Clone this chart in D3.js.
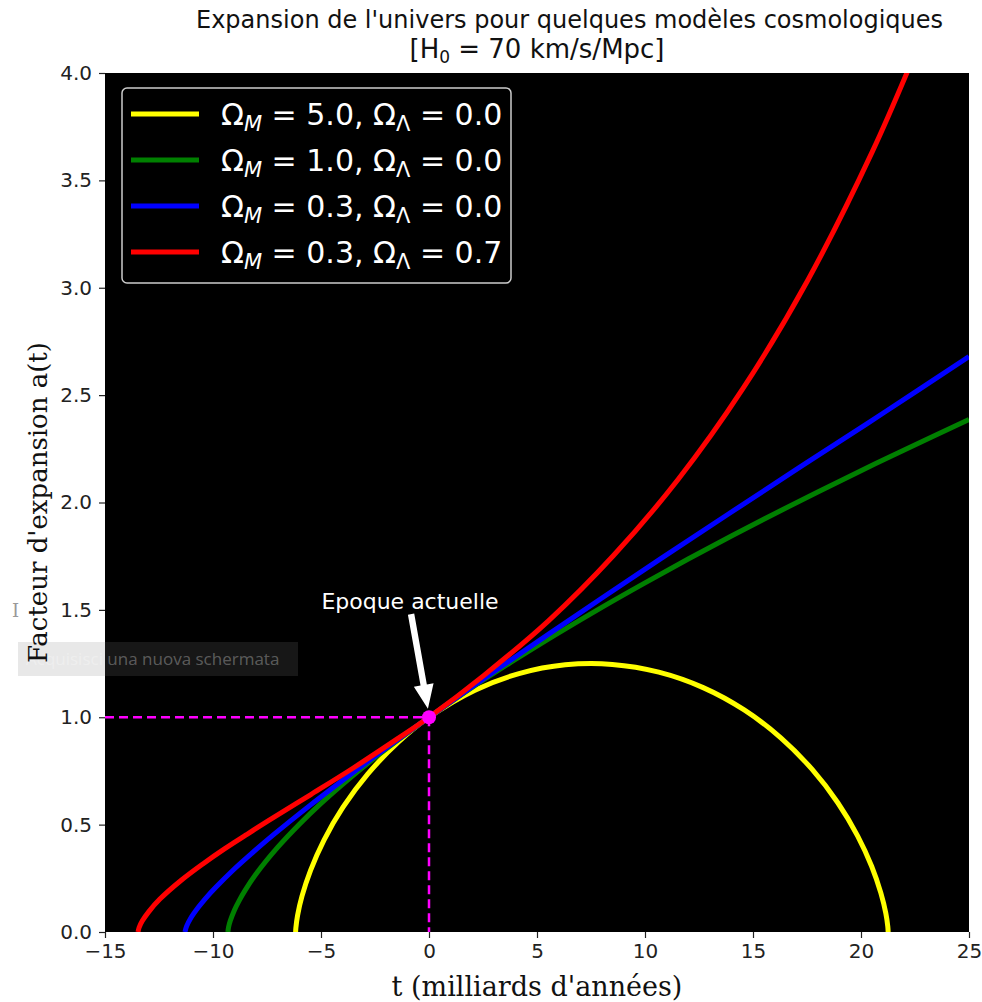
<!DOCTYPE html>
<html>
<head>
<meta charset="utf-8">
<script src="https://cdn.jsdelivr.net/npm/d3@7"></script>
<style>
  body { margin: 0; background: #fff; }
  svg { display: block; }
</style>
</head>
<body>
<svg id="chart" width="982" height="1002"></svg>
<script>
// valeurs (t en milliards d'années, a(t) sans dimension)
const tYellow = [-6.175, -6.164, -6.085, -5.877, -5.483, -4.861, -3.981, -2.831, -1.413, 0, 2.127, 4.165, 6.307, 8.487, 10.638, 12.693, 14.593, 16.288, 17.740, 18.926, 19.842, 20.497, 20.918, 21.149, 21.241, 21.257]
const aYellow = [0, 0.019, 0.077, 0.168, 0.287, 0.428, 0.581, 0.736, 0.885, 1.0, 1.126, 1.203, 1.244, 1.246, 1.210, 1.138, 1.034, 0.904, 0.757, 0.602, 0.448, 0.305, 0.182, 0.087, 0.025, 0]

const tGreen = [-9.31, -9.28, -9.2, -9.0, -8.8, -8.5, -8, -7, -6, -5, -4, -3, -2, -1, 0, 2, 4, 6, 8, 10, 12, 14, 16, 18, 20, 22, 25]
const aGreen = [0, 0.022, 0.052, 0.104, 0.144, 0.196, 0.271, 0.395, 0.502, 0.599, 0.688, 0.772, 0.851, 0.927, 1.0, 1.139, 1.269, 1.393, 1.512, 1.626, 1.737, 1.844, 1.948, 2.049, 2.148, 2.245, 2.386]

const tBlue = [-11.30, -11.22, -11.04, -10.67, -10.33, -9.87, -9.05, -8.22, -7.21, -5.48, -4.42, -3.22, -1.87, 0, 3.35, 5.54, 7.99, 10.75, 13.81, 17.24, 21.07, 25]
const aBlue = [0, 0.027, 0.063, 0.116, 0.158, 0.208, 0.290, 0.365, 0.452, 0.592, 0.674, 0.765, 0.865, 1.0, 1.236, 1.387, 1.554, 1.740, 1.943, 2.169, 2.419, 2.68]

const tRed = [-13.47, -13.42, -13.27, -12.97, -12.47, -11.47, -10.47, -9.47, -8.47, -7.47, -5.47, -3.47, -1.47, 0, 2.53, 5.53, 8.53, 11.53, 14.53, 17.53, 20.53, 22.53]
const aRed = [0, 0.021, 0.052, 0.095, 0.152, 0.241, 0.317, 0.387, 0.452, 0.516, 0.640, 0.766, 0.899, 1.0, 1.194, 1.449, 1.752, 2.107, 2.530, 3.034, 3.635, 4.098]

const series = [
  {label: ["5.0", "0.0"], color: "#ffff00", t: tYellow, a: aYellow},
  {label: ["1.0", "0.0"], color: "#008000", t: tGreen, a: aGreen},
  {label: ["0.3", "0.0"], color: "#0000ff", t: tBlue, a: aBlue},
  {label: ["0.3", "0.7"], color: "#ff0000", t: tRed, a: aRed}
]

const xTicks = [-15, -10, -5, 0, 5, 10, 15, 20, 25]
const yTicks = [0, 0.5, 1, 1.5, 2, 2.5, 3, 3.5, 4]
const now = {t: 0, a: 1}

const margin = {top: 73, right: 13, bottom: 70, left: 105}
const width = 982, height = 1002
const svg = d3.select("#chart")

const x = d3.scaleLinear().domain([-15, 25]).range([margin.left, width - margin.right])
const y = d3.scaleLinear().domain([0, 4]).range([height - margin.bottom, margin.top])

svg.append("defs").append("clipPath").attr("id", "clip")
  .append("rect")
  .attr("x", x(-15)).attr("y", y(4))
  .attr("width", x(25) - x(-15)).attr("height", y(0) - y(4))

svg.append("rect")
  .attr("x", x(-15)).attr("y", y(4))
  .attr("width", x(25) - x(-15)).attr("height", y(0) - y(4))
  .attr("fill", "#000")

// axes
const fmt = d => d < 0 ? "\u2212" + Math.abs(d) : String(d)
const xAxis = svg.append("g")
  .attr("transform", "translate(0," + y(0) + ")")
  .call(d3.axisBottom(x).tickValues(xTicks).tickFormat(fmt).tickSize(6).tickPadding(6))
const yAxis = svg.append("g")
  .attr("transform", "translate(" + x(-15) + ",0)")
  .call(d3.axisLeft(y).tickValues(yTicks).tickFormat(d3.format(".1f")).tickSize(6).tickPadding(7))
;[xAxis, yAxis].forEach(g => {
  g.select(".domain").remove()
  g.selectAll("line").attr("stroke", "#222").attr("stroke-width", 1.2)
  g.selectAll("text").attr("fill", "#222").style("font-family", "DejaVu Sans").style("font-size", "20px")
})

// courbes
const line = d3.line()
  .x(d => x(d[0])).y(d => y(d[1]))
  .curve(d3.curveCatmullRom.alpha(0.5))
const plot = svg.append("g").attr("clip-path", "url(#clip)")
plot.selectAll("path.model")
  .data(series)
  .enter().append("path")
  .attr("class", "model")
  .attr("d", d => line(d.t.map((t, i) => [t, d.a[i]])))
  .attr("fill", "none")
  .attr("stroke", d => d.color)
  .attr("stroke-width", 5)

// époque actuelle
plot.append("line")
  .attr("x1", x(-15)).attr("x2", x(now.t)).attr("y1", y(now.a)).attr("y2", y(now.a))
  .attr("stroke", "#ff00ff").attr("stroke-width", 2.5).attr("stroke-dasharray", "9,5")
plot.append("line")
  .attr("x1", x(now.t)).attr("x2", x(now.t)).attr("y1", y(now.a)).attr("y2", y(0))
  .attr("stroke", "#ff00ff").attr("stroke-width", 2.5).attr("stroke-dasharray", "9,5")
plot.append("circle")
  .attr("cx", x(now.t)).attr("cy", y(now.a)).attr("r", 7)
  .attr("fill", "#ff00ff")

// flèche
const tail = [x(-0.83), y(1.48)], tip = [x(-0.05), y(1.04)]
const dx = tip[0] - tail[0], dy = tip[1] - tail[1]
const len = Math.hypot(dx, dy), ux = dx / len, uy = dy / len, px = -uy, py = ux
const hl = 24, hw = 10, sw = 3.2
const base = [tip[0] - ux * hl, tip[1] - uy * hl]
const arrowPts = [
  [tail[0] + px * sw, tail[1] + py * sw],
  [base[0] + px * sw, base[1] + py * sw],
  [base[0] + px * hw, base[1] + py * hw],
  tip,
  [base[0] - px * hw, base[1] - py * hw],
  [base[0] - px * sw, base[1] - py * sw],
  [tail[0] - px * sw, tail[1] - py * sw]
]
svg.append("polygon")
  .attr("points", arrowPts.map(p => p.join(",")).join(" "))
  .attr("fill", "#fff")

svg.append("text")
  .attr("x", x(-0.88)).attr("y", y(1.505))
  .attr("text-anchor", "middle")
  .style("font-family", "DejaVu Sans").style("font-size", "22px")
  .attr("fill", "#fff")
  .text("Epoque actuelle")

// légende
const lg = svg.append("g").attr("transform", "translate(122,88)")
lg.append("rect")
  .attr("width", 389).attr("height", 195).attr("rx", 5)
  .attr("fill", "#000").attr("stroke", "#cccccc").attr("stroke-width", 1.5)
const item = lg.selectAll("g.item").data(series).enter().append("g")
  .attr("class", "item")
  .attr("transform", (d, i) => "translate(0," + (26 + i * 46) + ")")
item.append("line")
  .attr("x1", 9).attr("x2", 77)
  .attr("stroke", d => d.color).attr("stroke-width", 5)
const lt = item.append("text")
  .attr("x", 99).attr("y", 11)
  .attr("fill", "#fff")
  .style("font-family", "DejaVu Sans").style("font-size", "30px")
lt.each(function(d) {
  const t = d3.select(this)
  t.append("tspan").text("\u03a9")
  t.append("tspan").attr("dy", 6).style("font-size", "21px").style("font-style", "italic").text("M")
  t.append("tspan").attr("dy", -6).text(" = " + d.label[0] + ", \u03a9")
  t.append("tspan").attr("dy", 6).style("font-size", "21px").text("\u039b")
  t.append("tspan").attr("dy", -6).text(" = " + d.label[1])
})

// titres
svg.append("text")
  .attr("x", 196).attr("y", 28)
  .style("font-family", "DejaVu Sans").style("font-size", "24px")
  .attr("fill", "#111")
  .text("Expansion de l'univers pour quelques modèles cosmologiques")
const t2 = svg.append("text")
  .attr("x", (x(-15) + x(25)) / 2).attr("y", 58)
  .attr("text-anchor", "middle")
  .style("font-family", "DejaVu Sans").style("font-size", "26px")
  .attr("fill", "#111")
t2.append("tspan").text("[H")
t2.append("tspan").attr("dy", 5).style("font-size", "17px").text("0")
t2.append("tspan").attr("dy", -5).text(" = 70 km/s/Mpc]")

svg.append("text")
  .attr("x", (x(-15) + x(25)) / 2).attr("y", 996)
  .attr("text-anchor", "middle")
  .style("font-family", "DejaVu Serif").style("font-size", "27px")
  .attr("fill", "#111")
  .text("t (milliards d'années)")

// bandeau de capture d'écran présent sur l'image
svg.append("rect")
  .attr("x", 18).attr("y", 642).attr("width", 280).attr("height", 34)
  .attr("fill", "rgba(125,125,125,0.18)")
svg.append("text")
  .attr("x", 26).attr("y", 665)
  .style("font-family", "Open Sans").style("font-size", "17px")
  .attr("fill", "rgba(255,255,255,0.3)")
  .text("Acquisisci una nuova schermata")
svg.append("text")
  .attr("x", 12).attr("y", 617)
  .style("font-family", "DejaVu Serif").style("font-size", "18px")
  .attr("fill", "#999")
  .text("I")

svg.append("text")
  .attr("transform", "translate(47," + (y(0) + y(4)) / 2 + ") rotate(-90)")
  .attr("text-anchor", "middle")
  .style("font-family", "DejaVu Serif").style("font-size", "26px")
  .attr("fill", "#111")
  .text("Facteur d'expansion a(t)")
</script>
</body>
</html>
